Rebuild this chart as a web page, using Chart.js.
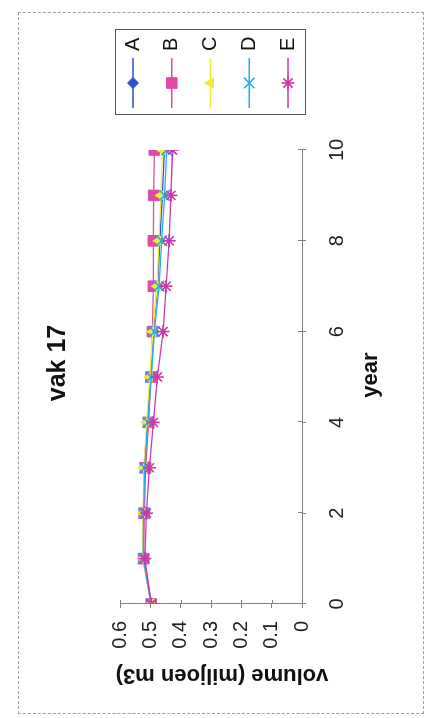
<!DOCTYPE html>
<html>
<head>
<meta charset="utf-8">
<script src="https://cdn.jsdelivr.net/npm/chart.js@4"></script>
<style>
html,body{margin:0;padding:0;background:#fff;width:430px;height:718px;overflow:hidden}
#frame{position:absolute;left:18px;top:12px;width:406px;height:702px;border:1px dashed #a0a0a0;box-sizing:border-box}
#rot{position:absolute;left:0;top:0;width:718px;height:430px;transform-origin:0 0;transform:translate(0,718px) rotate(-90deg)}
</style>
</head>
<body>
<div id="frame"></div>
<div id="rot"><canvas id="c" width="718" height="430"></canvas></div>
<script>
// ---- data ----
const chartTitle = 'vak 17';
const xAxisTitle = 'year';
const yAxisTitle = 'volume (miljoen m3)';
const seriesNames = ['A', 'B', 'C', 'D', 'E'];
const years = [0, 1, 2, 3, 4, 5, 6, 7, 8, 9, 10];
const seriesA = [0.497, 0.524, 0.523, 0.520, 0.510, 0.500, 0.490, 0.476, 0.469, 0.460, 0.454];
const seriesB = [0.497, 0.522, 0.520, 0.516, 0.506, 0.498, 0.493, 0.490, 0.490, 0.489, 0.487];
const seriesC = [0.497, 0.525, 0.524, 0.521, 0.512, 0.502, 0.492, 0.478, 0.472, 0.465, 0.460];
const seriesD = [0.497, 0.524, 0.522, 0.519, 0.508, 0.497, 0.487, 0.471, 0.463, 0.453, 0.446];
const seriesE = [0.497, 0.518, 0.513, 0.503, 0.490, 0.477, 0.458, 0.448, 0.438, 0.432, 0.427];
const yearTicks = [0, 2, 4, 6, 8, 10];
const volumeTicks = [0, 0.1, 0.2, 0.3, 0.4, 0.5, 0.6];

// ---- styles ----
const FONT = '"Liberation Sans", Arial, sans-serif';
const seriesValues = [seriesA, seriesB, seriesC, seriesD, seriesE];
const seriesColors = ['#2f4fc8', '#e04aa6', '#f0ec3a', '#22aef0', '#cf36a6'];
const seriesMarkers = ['rectRot', 'rect', 'triangle', 'crossRot', 'star'];
const markerRadius = [5.5, 7.5, 6, 7.5, 6.5];
const axisColor = '#808080';

const datasets = seriesNames.map((name, i) => ({
  label: name,
  data: years.map((yr, k) => ({x: yr, y: seriesValues[i][k]})),
  borderColor: seriesColors[i],
  backgroundColor: seriesColors[i],
  pointBackgroundColor: seriesColors[i],
  pointBorderColor: seriesColors[i],
  pointStyle: seriesMarkers[i],
  pointRadius: markerRadius[i],
  pointBorderWidth: (seriesMarkers[i] === 'crossRot' || seriesMarkers[i] === 'star') ? 1.6 : 1,
  borderWidth: 1.3,
  tension: 0,
  fill: false,
  order: seriesNames.length - i
}));

const crossTicks = {
  id: 'crossTicks',
  afterDraw(chart) {
    const {ctx, chartArea: ca, scales: {x, y}} = chart;
    ctx.save();
    ctx.strokeStyle = axisColor;
    ctx.lineWidth = 1;
    ctx.beginPath();
    x.ticks.forEach(t => { const p = Math.round(x.getPixelForValue(t.value)) + 0.5; ctx.moveTo(p, ca.bottom); ctx.lineTo(p, ca.bottom - 4); });
    y.ticks.forEach(t => { const p = Math.round(y.getPixelForValue(t.value)) + 0.5; ctx.moveTo(ca.left, p); ctx.lineTo(ca.left + 4, p); });
    ctx.stroke();
    ctx.restore();
  }
};

const titles = {
  id: 'titles',
  afterDraw(chart) {
    const {ctx} = chart;
    ctx.save();
    ctx.fillStyle = '#111';
    ctx.textAlign = 'center';
    ctx.textBaseline = 'middle';
    ctx.font = 'bold 25px ' + FONT;
    ctx.fillText(chartTitle, 355, 58);
    ctx.font = 'bold 22px ' + FONT;
    ctx.fillText(xAxisTitle, 343, 371);
    ctx.translate(43, 222);
    ctx.rotate(-Math.PI / 2);
    ctx.fillText(yAxisTitle, 0, 0);
    ctx.restore();
  }
};

const boxLegend = {
  id: 'boxLegend',
  afterDraw(chart) {
    const {ctx} = chart;
    const left = 603, top = 115, w = 85, h = 190;
    ctx.save();
    ctx.strokeStyle = '#555';
    ctx.lineWidth = 1;
    ctx.strokeRect(left + 0.5, top + 0.5, w, h);
    chart.data.datasets.forEach((ds, i) => {
      const cy = 133 + i * 38.75;
      ctx.strokeStyle = ds.borderColor;
      ctx.lineWidth = ds.borderWidth;
      ctx.beginPath(); ctx.moveTo(610, cy); ctx.lineTo(660, cy); ctx.stroke();
      ctx.fillStyle = ds.pointBackgroundColor;
      ctx.strokeStyle = ds.pointBorderColor;
      ctx.lineWidth = ds.pointBorderWidth;
      Chart.helpers.drawPoint(ctx, {pointStyle: ds.pointStyle, radius: ds.pointRadius, rotation: 0, borderWidth: ds.pointBorderWidth}, 635, cy);
      ctx.fillStyle = '#111';
      ctx.font = '20px ' + FONT;
      ctx.textAlign = 'left';
      ctx.textBaseline = 'middle';
      ctx.fillText(ds.label, 667, cy);
    });
    ctx.restore();
  }
};

new Chart(document.getElementById('c'), {
  type: 'line',
  data: {datasets},
  options: {
    responsive: false,
    animation: false,
    layout: {padding: {top: 120, right: 150, left: 0, bottom: 0}},
    plugins: {legend: {display: false}, title: {display: false}, tooltip: {enabled: false}},
    scales: {
      x: {
        type: 'linear',
        min: yearTicks[0],
        max: yearTicks[yearTicks.length - 1],
        afterFit(s) { s.height = 128; },
        afterBuildTicks(s) { s.ticks = yearTicks.map(v => ({value: v})); },
        ticks: {font: {family: FONT, size: 20}, color: '#222', padding: 19, maxRotation: 0, autoSkip: false},
        grid: {display: true, drawOnChartArea: false, drawTicks: true, tickLength: 4, color: axisColor, lineWidth: 1},
        border: {display: true, color: axisColor, width: 1}
      },
      y: {
        min: volumeTicks[0],
        max: volumeTicks[volumeTicks.length - 1],
        afterFit(s) { s.width = 114; },
        afterBuildTicks(s) { s.ticks = volumeTicks.map(v => ({value: v})); },
        ticks: {font: {family: FONT, size: 20}, color: '#222', padding: 13, autoSkip: false, callback: v => String(+v.toFixed(1))},
        grid: {display: true, drawOnChartArea: false, drawTicks: true, tickLength: 4, color: axisColor, lineWidth: 1},
        border: {display: true, color: axisColor, width: 1}
      }
    }
  },
  plugins: [crossTicks, titles, boxLegend]
});
</script>
</body>
</html>
